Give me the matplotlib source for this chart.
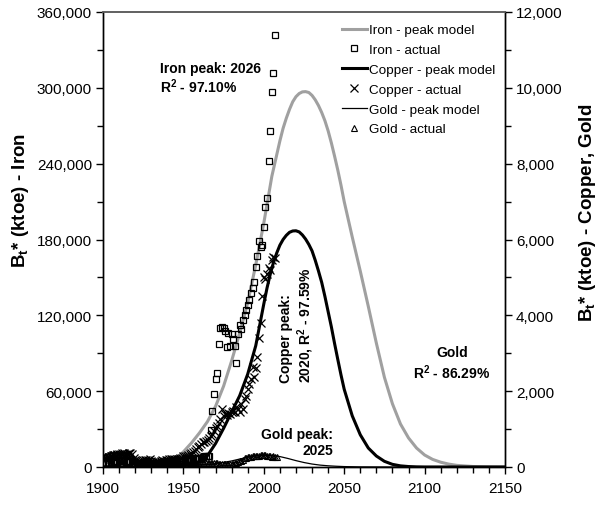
import matplotlib
matplotlib.use('Agg')
import matplotlib.pyplot as plt
import numpy as np
from matplotlib.ticker import MultipleLocator, FuncFormatter

plt.rcParams['font.family'] = ['Liberation Sans', 'DejaVu Sans']
plt.rcParams['mathtext.fontset'] = 'custom'
plt.rcParams['mathtext.rm'] = 'Liberation Sans'
plt.rcParams['mathtext.bf'] = 'Liberation Sans:bold'
plt.rcParams['mathtext.it'] = 'Liberation Sans:italic'

# ---------------- data ----------------
# Iron peak model (thousand ktoe, left axis)
iron_model_years = [1900, 1910, 1920, 1930, 1935, 1940, 1945, 1950, 1955, 1960, 1965, 1970,
                    1975, 1980, 1985, 1990, 1995, 2000, 2005, 2010, 2012, 2014, 2016, 2018,
                    2020, 2022, 2024, 2026, 2028, 2030, 2032, 2034, 2036, 2038, 2040, 2042,
                    2044, 2046, 2048, 2050, 2055, 2060, 2065, 2070, 2075, 2080, 2085, 2090,
                    2095, 2100, 2105, 2110, 2115, 2120, 2130, 2140, 2150]
iron_model_k = [0, 0.05, 0.2, 0.8, 1.5, 3, 6, 12, 19, 27, 36, 48,
                64, 84, 106, 130, 160, 193, 230, 258, 268, 276, 283, 289,
                293, 295.5, 296.8, 297, 296.3, 294, 290.5, 286, 280.5, 274, 266, 256.5,
                246, 235, 223, 210, 182, 155, 127, 98, 71, 50, 34, 23,
                15, 9.5, 6, 3.8, 2.3, 1.3, 0.4, 0.1, 0]

# Iron actual (thousand ktoe, left axis), 1900-2007
iron_actual_years = list(range(1900, 2008))
iron_actual_k = [3, 3, 3.5, 3.5, 3.5, 4, 4.5, 4.5, 3.5, 4, 4.5, 4.5, 5, 5, 4, 4, 5, 5, 4.5,
                 3, 3.5, 2.5, 3, 3.5, 3.5, 3.5, 4, 4, 4, 4.5, 3.5, 2.5, 2, 2.5, 3, 3.5, 4, 4,
                 3.5, 4, 4.5, 5, 5, 5, 4.5, 4,
                 4, 4.5, 5, 5, 5, 5.5, 5.5, 6, 6, 6.5, 7, 7, 7, 6.5, 7, 7.5, 8, 8.5, 9, 9,
                 9, 29, 44, 58, 70, 74, 97, 110, 111, 110, 108, 95, 106, 96, 105, 101, 96, 82,
                 105, 112, 109, 116, 120, 124, 128, 132, 138, 142, 146, 158, 167, 179, 174,
                 176, 190, 206, 213, 242, 266, 297, 312, 342]

# Copper peak model (ktoe, right axis)
copper_model_years = [1900, 1920, 1940, 1945, 1950, 1955, 1960, 1965, 1970, 1975, 1980, 1985,
                      1990, 1995, 2000, 2002, 2004, 2006, 2008, 2010, 2012, 2014, 2016, 2018,
                      2020, 2022, 2024, 2026, 2028, 2030, 2032, 2034, 2036, 2038, 2040, 2042,
                      2044, 2046, 2048, 2050, 2055, 2060, 2065, 2070, 2075, 2080, 2085, 2090,
                      2095, 2100, 2150]
copper_model = [0, 2, 10, 20, 40, 75, 130, 300, 620, 1020, 1450, 1880,
                2450, 3200, 4300, 4720, 5080, 5390, 5640, 5850, 6000, 6110, 6190, 6225,
                6230, 6200, 6120, 6010, 5870, 5700, 5450, 5170, 4870, 4500, 4100, 3700,
                3260, 2840, 2430, 2050, 1350, 850, 500, 290, 150, 70, 30, 12,
                4, 1, 0]

# Copper actual (ktoe, right axis), 1900-2007
copper_actual_years = list(range(1900, 2008))
copper_actual = [200, 220, 240, 250, 270, 290, 310, 320, 300, 330, 340, 330, 360, 370, 310,
                 340, 380, 370, 350,
                 230, 190, 110, 140, 170, 170, 180, 180, 180, 190, 200, 170, 130, 90, 100,
                 120, 140, 160, 180, 170, 180, 190, 200, 210, 210, 200, 180, 200, 220, 240, 250,
                 280, 290, 300, 320, 340, 360, 390, 430, 475, 520, 560, 600, 650, 660, 680,
                 700, 760, 825, 880, 950, 1020, 1090, 1150, 1270, 1530, 1350, 1400, 1360,
                 1420, 1400, 1450, 1490, 1450, 1570, 1530, 1450, 1660, 1530, 1800, 1880,
                 2060, 2200, 2320, 2630, 2370, 2600, 2900, 3400, 3800, 4500, 5000, 4950,
                 5100, 5250, 5200, 5450, 5550, 5500]

# Gold peak model (ktoe, right axis)
gold_model_years = [1900, 1920, 1940, 1950, 1960, 1970, 1975, 1980, 1985, 1990, 1995, 2000,
                    2005, 2010, 2015, 2020, 2025, 2030, 2035, 2040, 2045, 2050, 2060, 2070,
                    2080, 2150]
gold_model = [0, 2, 10, 25, 50, 90, 120, 160, 210, 255, 290, 305,
              300, 275, 225, 168, 118, 78, 50, 32, 20, 11, 3, 1,
              0, 0]

# Gold actual (ktoe, right axis), 1900-2008
gold_actual_years = list(range(1900, 2009))
gold_actual = [260, 280, 300, 310, 320, 330, 340, 330, 340, 350, 350, 340, 345, 350, 330,
               340, 320, 290, 260,
               220, 180, 150, 130, 120, 120, 115, 115, 110, 110, 110, 115, 120, 125, 130,
               135, 140, 150, 155, 160, 165, 170, 165, 150, 120, 100,
               80, 80, 80, 85, 85, 90, 90, 90, 90, 95, 95, 95, 100, 100, 100, 100, 100, 105,
               105, 105, 105, 105, 100, 100, 100, 100, 95, 90, 85, 80, 75, 75, 75, 75, 75,
               80, 85, 95, 110, 125,
               150, 170, 195, 225, 250, 260, 265, 275, 280, 280, 285, 290, 300, 310, 315,
               310, 305, 295, 290, 280, 275, 280, 275, 270]

legend_labels = ['Iron - peak model', 'Iron - actual', 'Copper - peak model',
                 'Copper - actual', 'Gold - peak model', 'Gold - actual']

# ---------------- figure ----------------
fig = plt.figure(figsize=(5.98, 5.06), dpi=100)
ax = fig.add_axes([103 / 598, 38 / 506, 402 / 598, 455 / 506])
ax2 = ax.twinx()

h1, = ax.plot(iron_model_years, np.array(iron_model_k) * 1000, color='#a0a0a0', lw=2.2,
              label=legend_labels[0])
h2, = ax.plot(iron_actual_years, np.array(iron_actual_k) * 1000, ls='none', marker='s',
              ms=5, mfc='none', mec='black', mew=0.9, label=legend_labels[1])
h3, = ax2.plot(copper_model_years, copper_model, color='black', lw=2.2,
               label=legend_labels[2])
h4, = ax2.plot(copper_actual_years, copper_actual, ls='none', marker='x', ms=6,
               mec='black', mew=0.9, label=legend_labels[3])
h5, = ax2.plot(gold_model_years, gold_model, color='black', lw=0.9, label=legend_labels[4])
h6, = ax2.plot(gold_actual_years, gold_actual, ls='none', marker='^', ms=4.5, mfc='none',
               mec='black', mew=0.8, label=legend_labels[5])

ax.set_xlim(1900, 2150)
ax.set_ylim(0, 360000)
ax2.set_ylim(0, 12000)

fmt = FuncFormatter(lambda v, p: f'{v:,.0f}')
ax.xaxis.set_major_locator(MultipleLocator(50))
ax.xaxis.set_minor_locator(MultipleLocator(10))
ax.yaxis.set_major_locator(MultipleLocator(60000))
ax.yaxis.set_minor_locator(MultipleLocator(30000))
ax.yaxis.set_major_formatter(fmt)
ax2.yaxis.set_major_locator(MultipleLocator(2000))
ax2.yaxis.set_minor_locator(MultipleLocator(1000))
ax2.yaxis.set_major_formatter(fmt)

for a in (ax, ax2):
    a.tick_params(which='major', direction='out', length=5, width=1, labelsize=11,
                  colors='black')
    a.tick_params(which='minor', direction='out', length=4, width=1)
ax.tick_params(axis='x', pad=5)
ax.tick_params(axis='y', pad=3)
ax2.tick_params(axis='y', pad=3)

for a in (ax, ax2):
    a.spines['top'].set_color('#606060')
    a.spines['top'].set_linewidth(1.2)
    for s in ('left', 'right', 'bottom'):
        a.spines[s].set_color('black')
        a.spines[s].set_linewidth(1.0)

ax.set_ylabel(r'B$_\mathbf{t}$* (ktoe) - Iron', fontsize=13.5, fontweight='bold')
ax.yaxis.set_label_coords(-0.178, 0.589)
ax2.set_ylabel(r'B$_\mathbf{t}$* (ktoe) - Copper, Gold', fontsize=13.5, fontweight='bold')
ax2.yaxis.set_label_coords(1.18, 0.56)

# annotations
ax.text(1935.4, 312500, 'Iron peak: 2026', fontsize=10, fontweight='bold', va='baseline')
ax.text(1935.4, 296700, r'R$^\mathbf{2}$ - 97.10%', fontsize=10, fontweight='bold',
        va='baseline')
ax.text(2021.0, 67200, 'Copper peak:\n' + r'2020, R$^\mathbf{2}$ - 97.59%', fontsize=10,
        fontweight='bold', rotation=90, ha='center', va='bottom', multialignment='left')
ax.text(2043.0, 32000, 'Gold peak:\n2025', fontsize=10, fontweight='bold', ha='right',
        va='top', multialignment='right')
ax.text(2117.0, 96500, 'Gold\n' + r'R$^\mathbf{2}$ - 86.29%', fontsize=10,
        fontweight='bold', ha='center', va='top', multialignment='center')

leg = ax2.legend(handles=[h1, h2, h3, h4, h5, h6], loc='upper left',
                 bbox_to_anchor=(0.5945, 0.974), frameon=False, fontsize=9.7,
                 handlelength=1.85, handletextpad=0.15, labelspacing=0.55, borderpad=0,
                 borderaxespad=0)

fig.savefig('out.png', dpi=100)
